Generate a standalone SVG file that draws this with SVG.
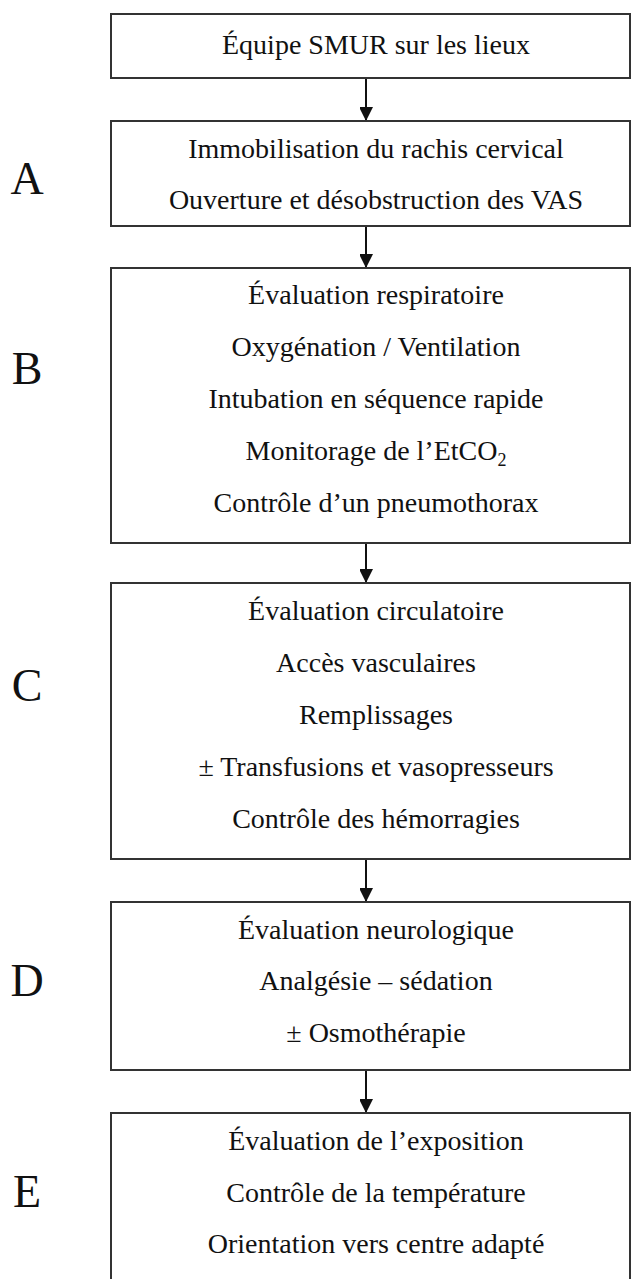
<svg xmlns="http://www.w3.org/2000/svg" width="631" height="1279" viewBox="0 0 631 1279">
<defs>
<style>
.box{fill:#fff;stroke:#333;stroke-width:2}
.t{font-family:"Liberation Serif","Times New Roman",serif;font-size:28px;fill:#111;text-anchor:middle}
.lt{font-family:"Liberation Serif","Times New Roman",serif;font-size:46px;fill:#111;text-anchor:middle}
.c{stroke:#111;stroke-width:2;fill:none}
</style>
<marker id="ah" markerUnits="userSpaceOnUse" markerWidth="14" markerHeight="13" refX="14" refY="7" orient="auto">
<path d="M0,0 L14,7 L0,14 Z" fill="#111"/>
</marker>
</defs>
<rect width="631" height="1279" fill="#fff"/>
<g id="connectors">
<line class="c" x1="366" y1="78" x2="366" y2="121" marker-end="url(#ah)"/>
<line class="c" x1="366" y1="226" x2="366" y2="268" marker-end="url(#ah)"/>
<line class="c" x1="366" y1="543" x2="366" y2="583" marker-end="url(#ah)"/>
<line class="c" x1="366" y1="859" x2="366" y2="902" marker-end="url(#ah)"/>
<line class="c" x1="366" y1="1070" x2="366" y2="1113" marker-end="url(#ah)"/>
</g>
<g id="node-start">
<rect class="box" x="111" y="14" width="519" height="64"/>
<text class="t" x="376" y="54">Équipe SMUR sur les lieux</text>
</g>
<g id="node-A">
<rect class="box" x="111" y="121" width="519" height="105"/>
<text class="t" x="376" y="158">Immobilisation du rachis cervical</text>
<text class="t" x="376" y="209">Ouverture et désobstruction des VAS</text>
</g>
<g id="node-B">
<rect class="box" x="111" y="268" width="519" height="275"/>
<text class="t" x="376" y="304">Évaluation respiratoire</text>
<text class="t" x="376" y="356">Oxygénation / Ventilation</text>
<text class="t" x="376" y="408">Intubation en séquence rapide</text>
<text class="t" x="376" y="460">Monitorage de l’EtCO<tspan font-size="18" dy="6">2</tspan></text>
<text class="t" x="376" y="512">Contrôle d’un pneumothorax</text>
</g>
<g id="node-C">
<rect class="box" x="111" y="583" width="519" height="276"/>
<text class="t" x="376" y="620">Évaluation circulatoire</text>
<text class="t" x="376" y="672">Accès vasculaires</text>
<text class="t" x="376" y="724">Remplissages</text>
<text class="t" x="376" y="776">± Transfusions et vasopresseurs</text>
<text class="t" x="376" y="828">Contrôle des hémorragies</text>
</g>
<g id="node-D">
<rect class="box" x="111" y="902" width="519" height="168"/>
<text class="t" x="376" y="939">Évaluation neurologique</text>
<text class="t" x="376" y="990">Analgésie – sédation</text>
<text class="t" x="376" y="1042">± Osmothérapie</text>
</g>
<g id="node-E">
<rect class="box" x="111" y="1113" width="519" height="180"/>
<text class="t" x="376" y="1150">Évaluation de l’exposition</text>
<text class="t" x="376" y="1202">Contrôle de la température</text>
<text class="t" x="376" y="1253">Orientation vers centre adapté</text>
</g>
<g id="letters">
<text class="lt" x="27" y="194">A</text>
<text class="lt" x="27" y="384">B</text>
<text class="lt" x="27" y="701">C</text>
<text class="lt" x="27" y="996">D</text>
<text class="lt" x="27" y="1207">E</text>
</g>
</svg>
